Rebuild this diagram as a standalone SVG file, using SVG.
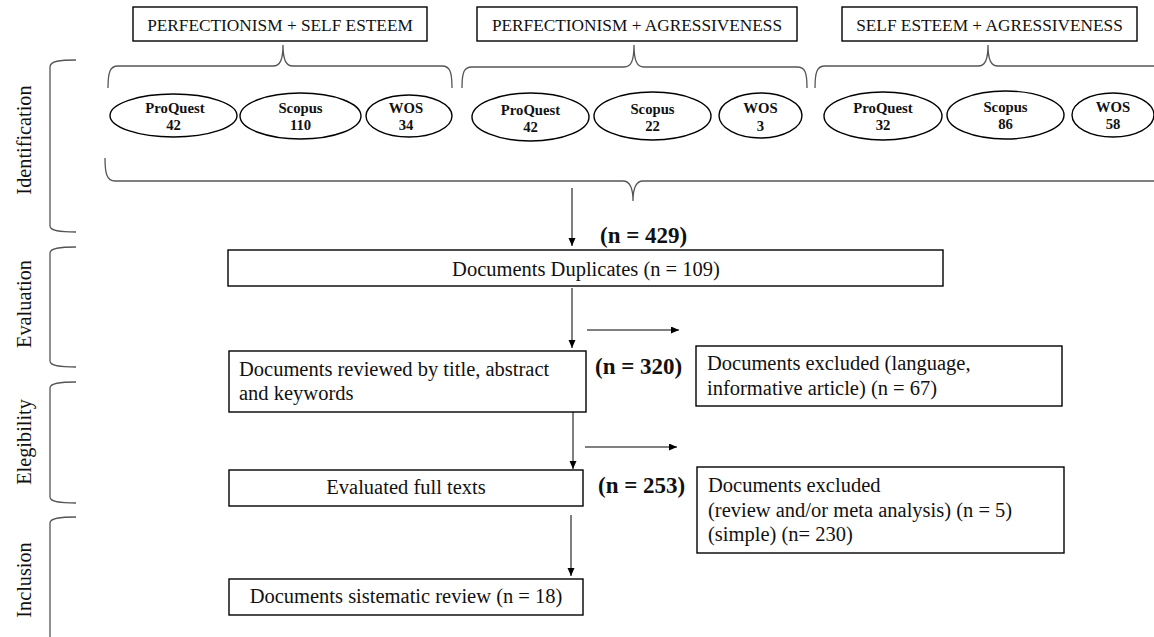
<svg xmlns="http://www.w3.org/2000/svg" width="1154" height="637" viewBox="0 0 1154 637">
<defs>
<style>
.bg{fill:#ffffff}
.box{fill:#ffffff;stroke:#000;stroke-width:1.4}
.ell{fill:#ffffff;stroke:#000;stroke-width:1.4}
.brace{fill:none;stroke:#555;stroke-width:1.3}
.line{fill:none;stroke:#000;stroke-width:1}
.t{font-family:"Liberation Serif","Times New Roman",serif;font-size:20.5px;fill:#111}
.th{font-family:"Liberation Serif","Times New Roman",serif;font-size:17.3px;fill:#111;text-anchor:middle}
.te{font-family:"Liberation Serif","Times New Roman",serif;font-size:14.7px;font-weight:bold;fill:#111;text-anchor:middle}
.tb{font-family:"Liberation Serif","Times New Roman",serif;font-size:23px;font-weight:bold;fill:#111}
.tp{font-family:"Liberation Serif","Times New Roman",serif;font-size:20.3px;fill:#111;text-anchor:middle}
.c{text-anchor:middle}
</style>
<marker id="ah" markerUnits="userSpaceOnUse" markerWidth="9" markerHeight="8" refX="8" refY="3.5" orient="auto">
<path d="M0,0 L8,3.5 L0,7 z" fill="#000"/>
</marker>
</defs>
<rect class="bg" x="0" y="0" width="1154" height="637"/>

<g id="phases">
<path class="brace" d="M76,60 C60,60 50,61 50,67 L50,226 C50,231 60,232 76,232"/>
<path class="brace" d="M76,247 C60,247 50,248 50,253 L50,361 C50,366 60,367 76,367"/>
<path class="brace" d="M76,382 C60,382 50,383 50,388 L50,497 C50,502 60,503 76,503"/>
<path class="brace" d="M76,517 C60,517 50,518 50,523 L50,637"/>
<text class="tp" transform="translate(31,140) rotate(-90)">Identification</text>
<text class="tp" transform="translate(31,304) rotate(-90)">Evaluation</text>
<text class="tp" transform="translate(31,442) rotate(-90)">Elegibility</text>
<text class="tp" transform="translate(31,580) rotate(-90)">Inclusion</text>
</g>

<g id="braces">
<path class="brace" d="M108,88 C108,72 110,66 118,66 L273,66 C280,66 283,60 283,45 C283,60 286,66 293,66 L442,66 C450,66 452,72 452,88"/>
<path class="brace" d="M462,88 C462,72 464,67 472,67 L624,67 C631,67 634,61 634,45 C634,61 637,67 644,67 L797,67 C805,67 807,72 807,88"/>
<path class="brace" d="M815,88 C815,72 817,66 825,66 L978,66 C985,66 988,60 988,45 C988,60 991,66 998,66 L1165,66"/>
<path class="brace" d="M105,158 C105,174 107,181 115,181 L623,181 C630,181 633,187 633,201 C633,187 636,181 643,181 L1160,181"/>
</g>

<g id="node-ps">
<rect class="box" x="133" y="7" width="294" height="34"/>
<text class="th" x="280" y="31">PERFECTIONISM + SELF ESTEEM</text>
</g>
<g id="node-pa">
<rect class="box" x="477" y="7" width="320" height="34"/>
<text class="th" x="637" y="31">PERFECTIONISM + AGRESSIVENESS</text>
</g>
<g id="node-sa">
<rect class="box" x="842" y="7" width="295" height="34"/>
<text class="th" x="989.5" y="31">SELF ESTEEM + AGRESSIVENESS</text>
</g>

<g id="ps-proquest"><ellipse class="ell" cx="173.5" cy="115.5" rx="63.5" ry="21.5"/><text class="te" x="175" y="113">ProQuest</text><text class="te" x="173.5" y="130">42</text></g>
<g id="ps-scopus"><ellipse class="ell" cx="300.5" cy="116" rx="60.5" ry="23"/><text class="te" x="300.5" y="113">Scopus</text><text class="te" x="300.5" y="130">110</text></g>
<g id="ps-wos"><ellipse class="ell" cx="409" cy="116" rx="43" ry="21"/><text class="te" x="406" y="113">WOS</text><text class="te" x="406" y="130">34</text></g>

<g id="pa-proquest"><ellipse class="ell" cx="530.5" cy="117" rx="58.5" ry="24"/><text class="te" x="530.5" y="115">ProQuest</text><text class="te" x="530.5" y="132">42</text></g>
<g id="pa-scopus"><ellipse class="ell" cx="652.5" cy="116" rx="58.5" ry="24"/><text class="te" x="652.5" y="114">Scopus</text><text class="te" x="652.5" y="131">22</text></g>
<g id="pa-wos"><ellipse class="ell" cx="760.5" cy="115.5" rx="41.5" ry="22.5"/><text class="te" x="760.5" y="113">WOS</text><text class="te" x="760.5" y="131">3</text></g>

<g id="sa-proquest"><ellipse class="ell" cx="883" cy="116" rx="59" ry="24"/><text class="te" x="883" y="113">ProQuest</text><text class="te" x="883" y="130">32</text></g>
<g id="sa-scopus"><ellipse class="ell" cx="1005.5" cy="115" rx="58.5" ry="24"/><text class="te" x="1005.5" y="112">Scopus</text><text class="te" x="1005.5" y="129">86</text></g>
<g id="sa-wos"><ellipse class="ell" cx="1113" cy="115" rx="41" ry="22"/><text class="te" x="1113" y="112">WOS</text><text class="te" x="1113" y="129">58</text></g>

<g id="connectors">
<line class="line" x1="572" y1="188" x2="572" y2="246" marker-end="url(#ah)"/>
<line class="line" x1="572" y1="288" x2="572" y2="348" marker-end="url(#ah)"/>
<line class="line" x1="587" y1="330" x2="679" y2="330" marker-end="url(#ah)"/>
<line class="line" x1="573" y1="412" x2="573" y2="469" marker-end="url(#ah)"/>
<line class="line" x1="585" y1="447" x2="677" y2="447" marker-end="url(#ah)"/>
<line class="line" x1="571" y1="515" x2="571" y2="576" marker-end="url(#ah)"/>
</g>

<g id="label-n429"><text class="tb" x="600" y="243">(n = 429)</text></g>
<g id="label-n320"><text class="tb" x="595" y="374">(n = 320)</text></g>
<g id="label-n253"><text class="tb" x="598" y="493">(n = 253)</text></g>

<g id="node-duplicates">
<rect class="box" x="228" y="250" width="715" height="36"/>
<text class="t c" x="586" y="276">Documents Duplicates (n = 109)</text>
</g>
<g id="node-reviewed">
<rect class="box" x="229" y="351" width="357" height="61"/>
<text class="t" x="239" y="376">Documents reviewed by title, abstract</text>
<text class="t" x="239" y="400">and keywords</text>
</g>
<g id="node-excluded1">
<rect class="box" x="696" y="346" width="366" height="60"/>
<text class="t" x="707" y="370">Documents excluded (language,</text>
<text class="t" x="707" y="395">informative article) (n = 67)</text>
</g>
<g id="node-evaluated">
<rect class="box" x="229" y="470" width="354" height="36"/>
<text class="t c" x="406" y="494">Evaluated full texts</text>
</g>
<g id="node-excluded2">
<rect class="box" x="697" y="467" width="367" height="86"/>
<text class="t" x="708" y="492">Documents excluded</text>
<text class="t" x="708" y="517">(review and/or meta analysis) (n = 5)</text>
<text class="t" x="708" y="541">(simple) (n= 230)</text>
</g>
<g id="node-final">
<rect class="box" x="229" y="579" width="354" height="36"/>
<text class="t c" x="406" y="603">Documents sistematic review (n = 18)</text>
</g>
</svg>
